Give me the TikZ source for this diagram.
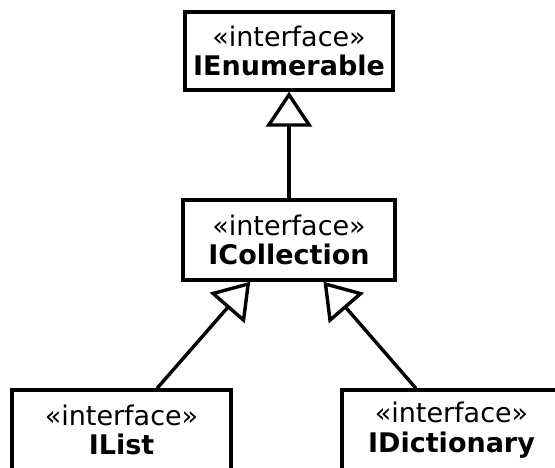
\documentclass[tikz,border=0pt]{standalone}
\usepackage{fontspec}
\setmainfont{DejaVu Sans}
\usetikzlibrary{arrows.meta, calc}
\tikzset{
  iface/.style={draw, line width=3.4pt, fill=white, align=center, inner sep=0pt,
    minimum height=80pt, font=\fontsize{27}{29.5}\selectfont},
  implements/.style={line width=3.4pt, -{Triangle[open, length=35pt, width=46pt]}}
}
\begin{document}
\begin{tikzpicture}[x=1pt, y=-1pt]
    \useasboundingbox (0,0) rectangle (555,467);
    \clip (0,0) rectangle (555,467);

    % Interfaces
    \node[iface, minimum width=208pt, minimum height=78pt] (ienum) at (289,51) {«interface»\\\textbf{IEnumerable}};
    \node[iface, minimum width=212pt] (icoll) at (289,240) {«interface»\\\textbf{ICollection}};
    \node[iface, minimum width=219pt] (ilist) at (121.5,430) {«interface»\\\textbf{IList}};
    \node[iface, minimum width=219pt] (idict) at (451.5,430) {«interface»\\\textbf{IDictionary}};

    % Generalization arrows
    \draw[implements] (icoll.north) -- (ienum.south);
    \draw[implements] ($(ilist.north west)!0.66!(ilist.north east)$) -- ($(icoll.south west)!0.32!(icoll.south east)$);
    \draw[implements] ($(idict.north west)!0.34!(idict.north east)$) -- ($(icoll.south west)!0.66!(icoll.south east)$);
\end{tikzpicture}
\end{document}
